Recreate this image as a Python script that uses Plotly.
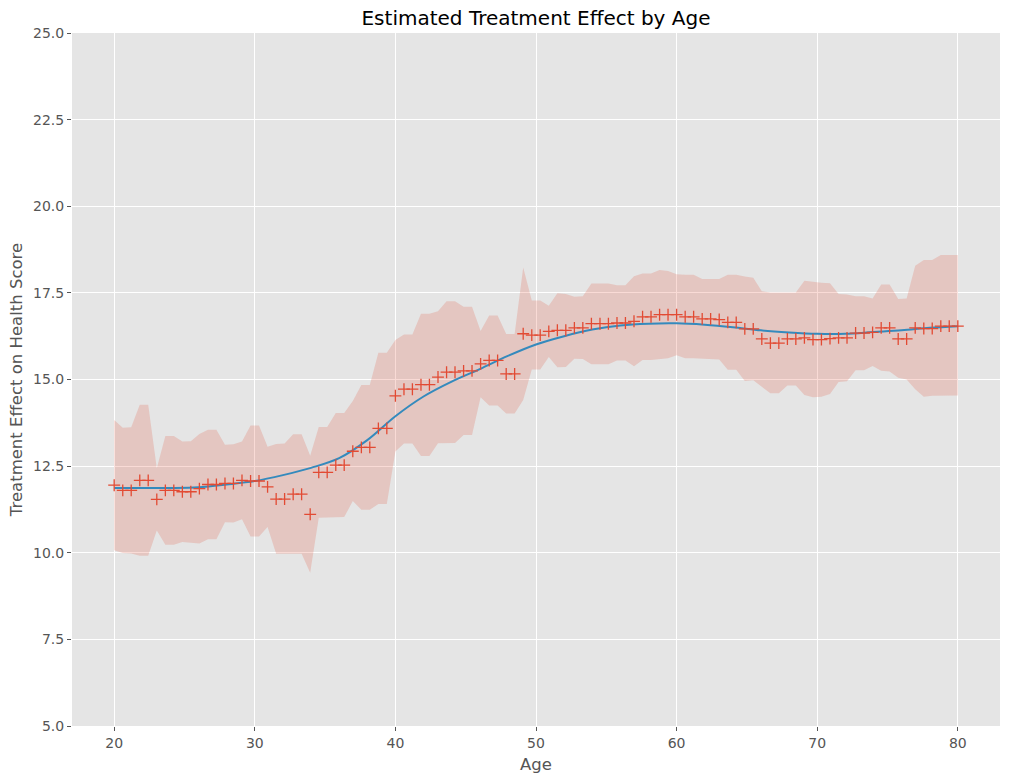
import plotly.graph_objects as go

age = [20.00, 20.61, 21.21, 21.82, 22.42, 23.03, 23.64, 24.24, 24.85, 25.45,
       26.06, 26.67, 27.27, 27.88, 28.48, 29.09, 29.70, 30.30, 30.91, 31.52,
       32.12, 32.73, 33.33, 33.94, 34.55, 35.15, 35.76, 36.36, 36.97, 37.58,
       38.18, 38.79, 39.39, 40.00, 40.61, 41.21, 41.82, 42.42, 43.03, 43.64,
       44.24, 44.85, 45.45, 46.06, 46.67, 47.27, 47.88, 48.48, 49.09, 49.70,
       50.30, 50.91, 51.52, 52.12, 52.73, 53.33, 53.94, 54.55, 55.15, 55.76,
       56.36, 56.97, 57.58, 58.18, 58.79, 59.39, 60.00, 60.61, 61.21, 61.82,
       62.42, 63.03, 63.64, 64.24, 64.85, 65.45, 66.06, 66.67, 67.27, 67.88,
       68.48, 69.09, 69.70, 70.30, 70.91, 71.52, 72.12, 72.73, 73.33, 73.94,
       74.55, 75.15, 75.76, 76.36, 76.97, 77.58, 78.18, 78.79, 79.39, 80.00]

effect = [11.95, 11.80, 11.80, 12.09, 12.09, 11.54, 11.80, 11.80, 11.76, 11.76,
          11.85, 11.97, 11.97, 12.00, 12.00, 12.09, 12.07, 12.07, 11.90, 11.55,
          11.55, 11.69, 11.69, 11.11, 12.32, 12.32, 12.53, 12.53, 12.93, 13.04,
          13.04, 13.59, 13.59, 14.53, 14.72, 14.72, 14.85, 14.85, 15.07, 15.21,
          15.21, 15.25, 15.25, 15.45, 15.55, 15.55, 15.16, 15.16, 16.32, 16.28,
          16.28, 16.39, 16.42, 16.42, 16.49, 16.49, 16.61, 16.61, 16.61, 16.63,
          16.63, 16.68, 16.81, 16.81, 16.87, 16.87, 16.87, 16.81, 16.81, 16.75,
          16.75, 16.73, 16.65, 16.65, 16.46, 16.46, 16.17, 16.05, 16.05, 16.17,
          16.17, 16.20, 16.15, 16.15, 16.18, 16.20, 16.20, 16.34, 16.34, 16.36,
          16.49, 16.49, 16.17, 16.17, 16.49, 16.47, 16.47, 16.54, 16.54, 16.54]

ci_upper = [13.83, 13.61, 13.62, 14.27, 14.27, 12.44, 13.37, 13.37, 13.21, 13.22,
            13.43, 13.55, 13.55, 13.12, 13.13, 13.21, 13.67, 13.67, 13.06, 13.14,
            13.15, 13.42, 13.42, 12.80, 13.63, 13.63, 14.03, 14.03, 14.38, 14.84,
            14.84, 15.77, 15.77, 16.14, 16.30, 16.30, 16.90, 16.90, 16.97, 17.26,
            17.26, 17.10, 17.10, 16.40, 16.85, 16.85, 16.31, 16.31, 18.23, 17.28,
            17.28, 17.13, 17.49, 17.47, 17.39, 17.40, 17.77, 17.77, 17.77, 17.72,
            17.72, 17.98, 18.06, 18.06, 18.16, 18.13, 18.04, 18.02, 18.02, 17.90,
            17.90, 17.90, 18.02, 18.02, 17.97, 17.94, 17.55, 17.51, 17.51, 17.51,
            17.51, 17.85, 17.81, 17.79, 17.78, 17.47, 17.45, 17.40, 17.40, 17.34,
            17.74, 17.74, 17.32, 17.34, 18.28, 18.45, 18.45, 18.59, 18.59, 18.59]

ci_lower = [10.07, 9.99, 9.98, 9.91, 9.91, 10.64, 10.23, 10.23, 10.31, 10.30,
            10.27, 10.39, 10.39, 10.88, 10.87, 10.97, 10.47, 10.47, 10.74, 9.97,
            9.96, 9.97, 9.97, 9.42, 11.01, 11.01, 11.03, 11.03, 11.49, 11.24,
            11.24, 11.41, 11.41, 12.92, 13.15, 13.15, 12.79, 12.79, 13.16, 13.17,
            13.17, 13.40, 13.40, 14.49, 14.25, 14.25, 14.02, 14.02, 14.41, 15.29,
            15.29, 15.65, 15.35, 15.36, 15.60, 15.59, 15.44, 15.44, 15.44, 15.55,
            15.55, 15.38, 15.56, 15.56, 15.58, 15.61, 15.70, 15.61, 15.61, 15.60,
            15.60, 15.58, 15.28, 15.28, 14.96, 14.98, 14.79, 14.60, 14.60, 14.83,
            14.83, 14.55, 14.49, 14.50, 14.58, 14.93, 14.95, 15.27, 15.27, 15.39,
            15.25, 15.23, 15.05, 15.00, 14.72, 14.50, 14.53, 14.54, 14.54, 14.54]

smooth_age = [20, 22, 24, 26, 28, 30, 32, 34, 36, 38, 40, 42, 44, 46, 48, 50,
              52, 54, 56, 58, 60, 62, 64, 66, 68, 70, 72, 74, 76, 78, 80]
smooth_effect = [11.87, 11.87, 11.87, 11.89, 11.97, 12.07, 12.24, 12.45, 12.73,
                 13.25, 13.94, 14.51, 14.94, 15.30, 15.68, 16.01, 16.25, 16.44,
                 16.56, 16.61, 16.62, 16.58, 16.51, 16.42, 16.36, 16.32, 16.32,
                 16.37, 16.42, 16.49, 16.54]

x_ticks = [20, 30, 40, 50, 60, 70, 80]
y_ticks = [5.0, 7.5, 10.0, 12.5, 15.0, 17.5, 20.0, 22.5, 25.0]
y_tick_labels = ["5.0", "7.5", "10.0", "12.5", "15.0", "17.5", "20.0", "22.5", "25.0"]

RED = "#E24A33"
BLUE = "#348ABD"
FONT = "DejaVu Sans"

fig = go.Figure()
fig.add_trace(go.Scatter(x=age, y=ci_upper, mode="lines", line=dict(width=0),
                         hoverinfo="skip", showlegend=False))
fig.add_trace(go.Scatter(x=age, y=ci_lower, mode="lines", line=dict(width=0),
                         fill="tonexty", fillcolor="rgba(226,74,51,0.2)",
                         hoverinfo="skip", showlegend=False))
fig.add_trace(go.Scatter(x=smooth_age, y=smooth_effect, mode="lines",
                         line=dict(color=BLUE, width=2, shape="spline", smoothing=1.0),
                         showlegend=False))
fig.add_trace(go.Scatter(x=age, y=effect, mode="markers",
                         marker=dict(symbol="cross-thin", size=8.5,
                                     line=dict(color=RED, width=1.3), color=RED),
                         showlegend=False))

fig.update_layout(
    width=1011, height=780,
    margin=dict(l=72, r=11, t=33, b=54),
    paper_bgcolor="white",
    plot_bgcolor="#E5E5E5",
    font=dict(family=FONT, color="#555555", size=14),
    title=dict(text="Estimated Treatment Effect by Age", x=0.5, xref="paper",
               xanchor="center", y=1 - 18 / 780, yref="container", yanchor="middle",
               font=dict(family=FONT, size=20, color="black")),
    xaxis=dict(range=[17, 83], tickvals=x_ticks, ticks="outside", ticklen=4,
               tickcolor="#555555", tickwidth=1, showgrid=True, gridcolor="white",
               gridwidth=1, zeroline=False, showline=False, automargin=False,
               tickfont=dict(family=FONT, size=14, color="#555555"),
               title=dict(text="Age", standoff=8,
                          font=dict(family=FONT, size=16.5, color="#555555"))),
    yaxis=dict(range=[5, 25], tickvals=y_ticks, ticktext=y_tick_labels,
               ticks="outside", ticklen=4, tickcolor="#555555", tickwidth=1,
               showgrid=True, gridcolor="white", gridwidth=1, zeroline=False,
               showline=False, automargin=False,
               tickfont=dict(family=FONT, size=14, color="#555555"),
               title=dict(text="Treatment Effect on Health Score", standoff=6,
                          font=dict(family=FONT, size=16.5, color="#555555"))),
)

fig.write_html("out.html", config={"displayModeBar": False},
               post_script="document.body.style.margin='0';document.body.style.padding='0';")
